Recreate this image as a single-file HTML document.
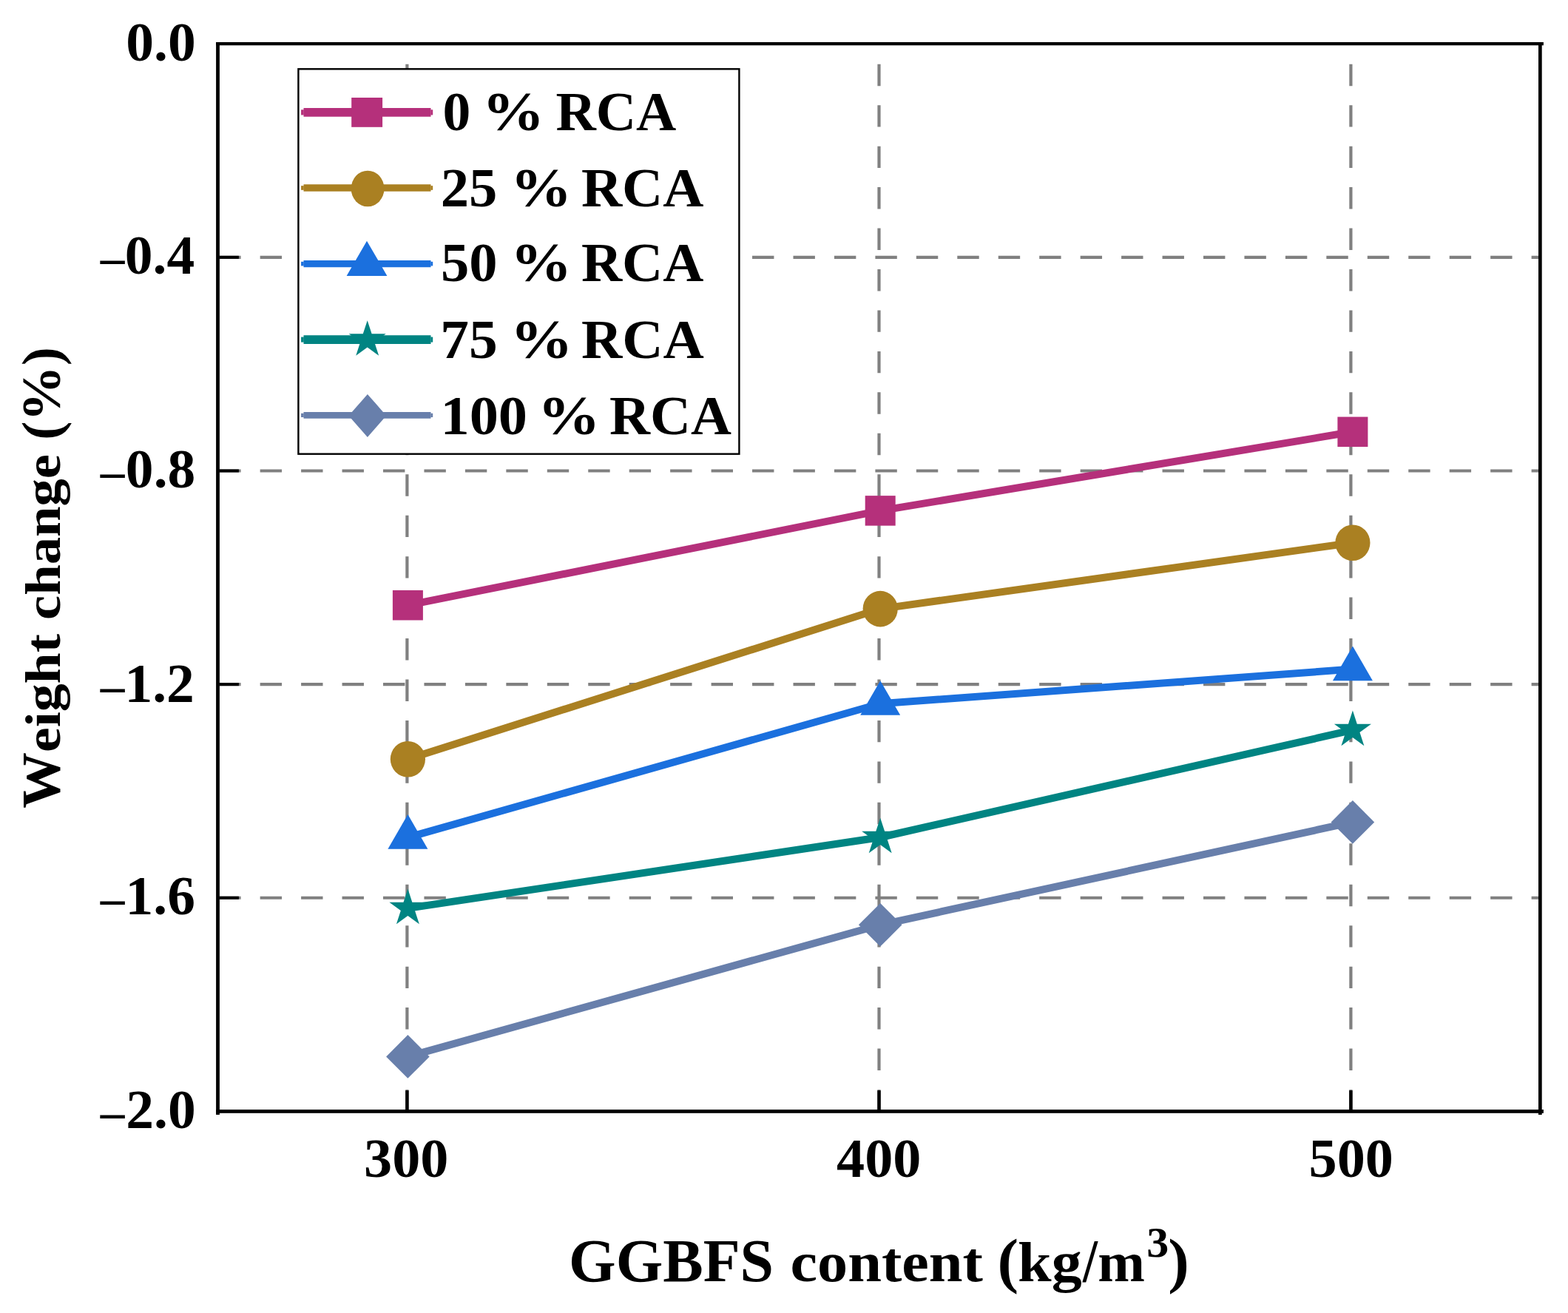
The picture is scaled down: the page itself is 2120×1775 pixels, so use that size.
<!DOCTYPE html><html><head><meta charset="utf-8"><title>Weight change vs GGBFS content</title><style>html,body{margin:0;padding:0;background:#fff;overflow:hidden;width:2120px;height:1775px}svg{display:block}</style></head><body><svg width="2120" height="1775" viewBox="0 0 2120 1775">
<rect width="2120" height="1775" fill="#fff"/>
<g stroke="#808080" stroke-width="4.2" stroke-dasharray="29.4 26.05" fill="none"><line x1="296.2" y1="347.84" x2="2080" y2="347.84"/><line x1="296.2" y1="636.48" x2="2080" y2="636.48"/><line x1="296.2" y1="925.12" x2="2080" y2="925.12"/><line x1="296.2" y1="1213.76" x2="2080" y2="1213.76"/><line x1="550.40" y1="1502.40" x2="550.40" y2="61.3"/><line x1="1188.50" y1="1502.40" x2="1188.50" y2="61.3"/><line x1="1826.40" y1="1502.40" x2="1826.40" y2="61.3"/></g>
<polyline points="551.40,818.20 1190.20,690.40 1828.90,583.80" fill="none" stroke="#B5307B" stroke-width="10" stroke-linejoin="round"/>
<rect x="530.90" y="797.95" width="41.0" height="40.5" fill="#B5307B"/>
<rect x="1169.70" y="670.15" width="41.0" height="40.5" fill="#B5307B"/>
<rect x="1808.40" y="563.55" width="41.0" height="40.5" fill="#B5307B"/>
<polyline points="551.40,1026.20 1190.20,823.10 1828.90,733.70" fill="none" stroke="#AA8022" stroke-width="10" stroke-linejoin="round"/>
<ellipse cx="551.40" cy="1026.20" rx="23.6" ry="24.3" fill="#AA8022"/>
<ellipse cx="1190.20" cy="823.10" rx="23.6" ry="24.3" fill="#AA8022"/>
<ellipse cx="1828.90" cy="733.70" rx="23.6" ry="24.3" fill="#AA8022"/>
<polyline points="551.40,1132.10 1190.20,951.30 1828.90,904.60" fill="none" stroke="#1B70DE" stroke-width="10" stroke-linejoin="round"/>
<polygon points="551.40,1100.97 578.40,1147.67 524.40,1147.67" fill="#1B70DE"/>
<polygon points="1190.20,920.17 1217.20,966.87 1163.20,966.87" fill="#1B70DE"/>
<polygon points="1828.90,873.47 1855.90,920.17 1801.90,920.17" fill="#1B70DE"/>
<polyline points="551.40,1227.90 1190.20,1132.00 1828.90,986.90" fill="none" stroke="#008482" stroke-width="10" stroke-linejoin="round"/>
<polygon points="551.40,1201.60 557.31,1219.77 576.41,1219.77 560.95,1231.00 566.86,1249.18 551.40,1237.95 535.94,1249.18 541.85,1231.00 526.39,1219.77 545.49,1219.77" fill="#008482"/>
<polygon points="1190.20,1105.70 1196.11,1123.87 1215.21,1123.87 1199.75,1135.10 1205.66,1153.28 1190.20,1142.05 1174.74,1153.28 1180.65,1135.10 1165.19,1123.87 1184.29,1123.87" fill="#008482"/>
<polygon points="1828.90,960.60 1834.81,978.77 1853.91,978.77 1838.45,990.00 1844.36,1008.18 1828.90,996.95 1813.44,1008.18 1819.35,990.00 1803.89,978.77 1822.99,978.77" fill="#008482"/>
<polyline points="551.40,1428.40 1190.20,1250.30 1828.90,1111.40" fill="none" stroke="#687FAB" stroke-width="10" stroke-linejoin="round"/>
<polygon points="551.40,1399.10 580.70,1428.40 551.40,1457.70 522.10,1428.40" fill="#687FAB"/>
<polygon points="1190.20,1221.00 1219.50,1250.30 1190.20,1279.60 1160.90,1250.30" fill="#687FAB"/>
<polygon points="1828.90,1082.10 1858.20,1111.40 1828.90,1140.70 1799.60,1111.40" fill="#687FAB"/>
<g fill="#000">
<rect x="292.1" y="57" width="4.8" height="1450"/>
<rect x="2080" y="57" width="4.7" height="1450"/>
<rect x="292.1" y="57" width="1794.8" height="4.3"/>
<rect x="292.1" y="1500" width="1794.8" height="4.8"/>
<rect x="296.9" y="345.79" width="26" height="4.1"/>
<rect x="296.9" y="634.43" width="26" height="4.1"/>
<rect x="296.9" y="923.07" width="26" height="4.1"/>
<rect x="296.9" y="1211.71" width="26" height="4.1"/>
<rect x="548.15" y="1474.2" width="4.5" height="26"/>
<rect x="1186.25" y="1474.2" width="4.5" height="26"/>
<rect x="1824.15" y="1474.2" width="4.5" height="26"/>
</g>
<rect x="403.4" y="93.3" width="596.0" height="520.4" fill="#fff" stroke="#000" stroke-width="2.4"/>
<line x1="410.5" y1="151.9" x2="582.5" y2="151.9" stroke="#B5307B" stroke-width="11.9"/>
<rect x="407.1" y="148.33" width="3.6" height="7.14" fill="#B5307B"/><rect x="582.3" y="148.33" width="2.9" height="7.14" fill="#B5307B"/>
<rect x="475.2" y="132.00" width="41.9" height="39.8" fill="#B5307B"/>
<line x1="410.5" y1="254.0" x2="582.5" y2="254.0" stroke="#AA8022" stroke-width="9.5"/>
<rect x="407.1" y="251.15" width="3.6" height="5.70" fill="#AA8022"/><rect x="582.3" y="251.15" width="2.9" height="5.70" fill="#AA8022"/>
<ellipse cx="497.1" cy="255.00" rx="22.4" ry="24.3" fill="#AA8022"/>
<line x1="410.5" y1="356.6" x2="582.5" y2="356.6" stroke="#1B70DE" stroke-width="9.4"/>
<rect x="407.1" y="353.78" width="3.6" height="5.64" fill="#1B70DE"/><rect x="582.3" y="353.78" width="2.9" height="5.64" fill="#1B70DE"/>
<polygon points="496,325.7 523.4,372.9 468.6,372.9" fill="#1B70DE"/>
<line x1="410.5" y1="459.1" x2="582.5" y2="459.1" stroke="#008482" stroke-width="11.7"/>
<rect x="407.1" y="455.59" width="3.6" height="7.02" fill="#008482"/><rect x="582.3" y="455.59" width="2.9" height="7.02" fill="#008482"/>
<polygon points="496.70,433.20 502.61,451.37 521.71,451.37 506.25,462.60 512.16,480.78 496.70,469.55 481.24,480.78 487.15,462.60 471.69,451.37 490.79,451.37" fill="#008482"/>
<line x1="410.5" y1="561.4" x2="582.5" y2="561.4" stroke="#687FAB" stroke-width="8.8"/>
<rect x="407.1" y="558.76" width="3.6" height="5.28" fill="#687FAB"/><rect x="582.3" y="558.76" width="2.9" height="5.28" fill="#687FAB"/>
<polygon points="496.9,532.9 522.3,561.9 496.9,590.9 471.4,561.9" fill="#687FAB"/>
<g font-family='"Liberation Serif", "Times New Roman", serif' font-weight="bold" fill="#000" style="font-kerning:none">
<text transform="translate(598.42,176.30) scale(1.0300,1.0000)" font-size="73.5" >0</text>
<text transform="translate(651.72,176.30) scale(1.1511,1.0000)" font-size="73.5" >%</text>
<text transform="translate(751.41,176.30) scale(1.0232,1.0000)" font-size="73.5" >RCA</text>
<text transform="translate(595.78,279.20) scale(1.0425,1.0000)" font-size="73.5" >25</text>
<text transform="translate(690.06,279.20) scale(1.1325,1.0000)" font-size="73.5" >%</text>
<text transform="translate(785.89,279.20) scale(1.0404,1.0000)" font-size="73.5" >RCA</text>
<text transform="translate(595.93,380.00) scale(1.0419,1.0000)" font-size="73.5" >50</text>
<text transform="translate(690.06,380.00) scale(1.1325,1.0000)" font-size="73.5" >%</text>
<text transform="translate(785.89,380.00) scale(1.0404,1.0000)" font-size="73.5" >RCA</text>
<text transform="translate(595.37,483.50) scale(1.0539,1.0000)" font-size="73.5" >75</text>
<text transform="translate(689.69,483.50) scale(1.1562,1.0000)" font-size="73.5" >%</text>
<text transform="translate(785.89,483.50) scale(1.0416,1.0000)" font-size="73.5" >RCA</text>
<text transform="translate(595.42,586.50) scale(1.0673,1.0000)" font-size="73.5" >100</text>
<text transform="translate(726.79,586.50) scale(1.1562,1.0000)" font-size="73.5" >%</text>
<text transform="translate(824.00,586.50) scale(1.0353,1.0000)" font-size="73.5" >RCA</text>
<text transform="translate(170.23,81.50) scale(1.0350,1.0000)" font-size="73" >0.0</text>
<text transform="translate(168.76,370.14) scale(1.0350,1.0000)" font-size="73" >0.4</text>
<text transform="translate(135.65,370.14) scale(1.0221,1.0000)" font-size="64" >–</text>
<text transform="translate(169.86,658.78) scale(1.0350,1.0000)" font-size="73" >0.8</text>
<text transform="translate(135.65,658.78) scale(1.0221,1.0000)" font-size="64" >–</text>
<text transform="translate(168.40,948.62) scale(1.0350,1.0000)" font-size="73" >1.2</text>
<text transform="translate(135.65,948.62) scale(1.0221,1.0000)" font-size="64" >–</text>
<text transform="translate(169.57,1236.06) scale(1.0350,1.0000)" font-size="73" >1.6</text>
<text transform="translate(135.65,1236.06) scale(1.0221,1.0000)" font-size="64" >–</text>
<text transform="translate(170.23,1524.70) scale(1.0350,1.0000)" font-size="73" >2.0</text>
<text transform="translate(135.65,1524.70) scale(1.0221,1.0000)" font-size="64" >–</text>
<text transform="translate(492.00,1590.90) scale(1.0450,1.0000)" font-size="73" >300</text>
<text transform="translate(1131.02,1590.90) scale(1.0450,1.0000)" font-size="73" >400</text>
<text transform="translate(1769.51,1590.90) scale(1.0450,1.0000)" font-size="73" >500</text>
<text transform="translate(769.11,1731.60) scale(1.0001,1.0000)" font-size="81.7" >GGBFS</text>
<text transform="translate(1068.59,1731.60) scale(1.0066,0.9340)" font-size="81.7" >content</text>
<text transform="translate(1348.46,1731.60) scale(1.0500,1.0000)" font-size="81.7" >(</text>
<text transform="translate(1376.06,1731.60) scale(1.0041,0.9340)" font-size="81.7" >kg</text>
<text transform="translate(1464.10,1731.60) scale(0.8794,1.0000)" font-size="81.7" >/</text>
<text transform="translate(1484.35,1731.60) scale(0.9354,0.9340)" font-size="81.7" >m</text>
<text transform="translate(1550.14,1699.20) scale(1.0717,1.0000)" font-size="56" >3</text>
<text transform="translate(1579.27,1731.60) scale(1.0500,1.0000)" font-size="81.7" >)</text>
<g transform="translate(80.5,1091.7) rotate(-90)"><text transform="translate(-1.07,0.00) scale(1.0321,1.0000)" font-size="73.4" >W</text><text transform="translate(74.71,0.00) scale(1.0322,0.9300)" font-size="73.4" >eight</text><text transform="translate(253.75,0.00) scale(1.0172,0.9300)" font-size="73.4" >change</text><text transform="translate(496.89,0.00) scale(1.0273,1.0000)" font-size="73.4" >(%)</text></g>
</g>
</svg></body></html>
